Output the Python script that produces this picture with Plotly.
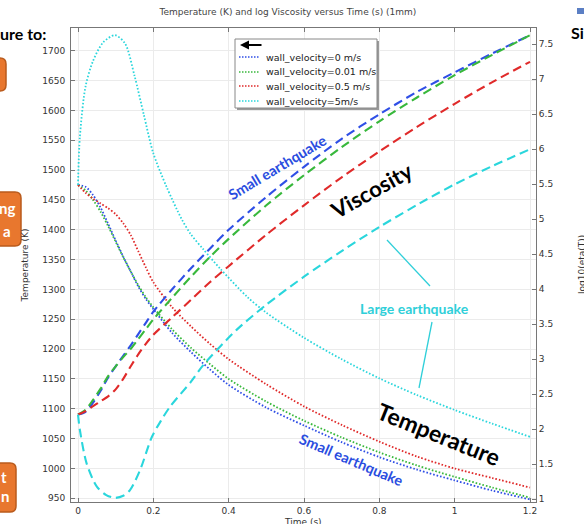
import plotly.graph_objects as go

# ---------------- data ----------------
t_T = [0, 0.02, 0.04, 0.06, 0.08, 0.1, 0.12, 0.14, 0.16, 0.18, 0.2, 0.25, 0.3,
       0.35, 0.4, 0.5, 0.6, 0.7, 0.8, 0.9, 1.0, 1.1, 1.2]
T_v0 = [1475, 1472, 1458, 1437, 1410, 1382, 1355, 1330, 1305, 1284, 1267, 1227, 1195,
        1166, 1140, 1102, 1072, 1044, 1019, 998, 980, 963, 948]
T_v001 = [1475, 1466, 1450, 1430, 1406, 1380, 1354, 1330, 1307, 1287, 1270, 1233, 1202,
          1175, 1150, 1112, 1080, 1052, 1027, 1005, 986, 968, 951]
T_v05 = [1475, 1462, 1452, 1444, 1436, 1426, 1411, 1391, 1364, 1337, 1312, 1270, 1238,
         1209, 1183, 1141, 1104, 1073, 1045, 1020, 1000, 984, 968]
t_T5 = [0, 0.005, 0.02, 0.04, 0.067, 0.098, 0.125, 0.15, 0.175, 0.2, 0.235, 0.275, 0.3,
        0.333, 0.377, 0.45, 0.5, 0.6, 0.7, 0.8, 0.9, 1.0, 1.1, 1.2]
T_v5 = [1475, 1556, 1640, 1683, 1714, 1726, 1712, 1658, 1592, 1528, 1472, 1418, 1392,
        1367, 1335, 1287, 1261, 1219, 1183, 1151, 1123, 1098, 1075, 1053]

t_V = [0, 0.02, 0.04, 0.06, 0.08, 0.1, 0.12, 0.14, 0.16, 0.18, 0.2, 0.25, 0.3,
       0.35, 0.4, 0.5, 0.6, 0.7, 0.8, 0.9, 1.0, 1.1, 1.2]
V_v0 = [2.21, 2.25, 2.38, 2.55, 2.74, 2.90, 3.05, 3.20, 3.36, 3.52, 3.68, 4.00, 4.30,
        4.58, 4.85, 5.32, 5.75, 6.15, 6.50, 6.82, 7.10, 7.37, 7.63]
V_v001 = [2.21, 2.28, 2.42, 2.58, 2.76, 2.90, 3.03, 3.15, 3.29, 3.43, 3.57, 3.88, 4.18,
          4.46, 4.72, 5.20, 5.63, 6.03, 6.40, 6.74, 7.06, 7.35, 7.63]
V_v05 = [2.21, 2.26, 2.33, 2.40, 2.47, 2.57, 2.72, 2.90, 3.07, 3.22, 3.35, 3.60, 3.85,
         4.10, 4.33, 4.78, 5.20, 5.60, 5.97, 6.32, 6.65, 6.96, 7.25]
t_V5 = [0, 0.005, 0.023, 0.05, 0.075, 0.098, 0.12, 0.138, 0.165, 0.196, 0.22, 0.244,
        0.3, 0.333, 0.421, 0.5, 0.6, 0.704, 0.8, 0.908, 1.0, 1.1, 1.2]
V_v5 = [2.21, 1.99, 1.51, 1.18, 1.06, 1.02, 1.05, 1.13, 1.42, 1.89, 2.12, 2.32,
        2.68, 2.92, 3.42, 3.78, 4.18, 4.56, 4.89, 5.23, 5.50, 5.76, 6.00]

series_names = ["wall_velocity=0 m/s", "wall_velocity=0.01 m/s",
                "wall_velocity=0.5 m/s", "wall_velocity=5m/s"]
colors = ["#2f4fe6", "#38b83c", "#e02a2a", "#2ad6dc"]

# ---------------- layout geometry ----------------
W, H = 584, 524
L, R, TOP, B = 71, 48, 28, 22
PW, PH = W - L - R, H - TOP - B


def px(x):
    return (x - L) / PW


def py(y):
    return 1 - (y - TOP) / PH


fig = go.Figure()

temps = [(t_T, T_v0), (t_T, T_v001), (t_T, T_v05), (t_T5, T_v5)]
viscs = [(t_V, V_v0), (t_V, V_v001), (t_V, V_v05), (t_V5, V_v5)]

for i, (tt, vv) in enumerate(viscs):
    fig.add_trace(go.Scatter(x=tt, y=vv, yaxis="y2", mode="lines",
                             line=dict(color=colors[i], width=2.1, dash="9px,5px",
                                       shape="spline", smoothing=0.8),
                             showlegend=False, name=series_names[i]))
for i, (tt, vv) in enumerate(temps):
    fig.add_trace(go.Scatter(x=tt, y=vv, mode="lines",
                             line=dict(color=colors[i], width=1.8, dash="1.6px,1.9px",
                                       shape="spline", smoothing=0.8),
                             showlegend=False, name=series_names[i]))

axis_col = "#777777"
tickfont = dict(family="DejaVu Sans", size=9, color="#333333")

fig.update_layout(
    width=W, height=H,
    margin=dict(l=L, r=R, t=TOP, b=B, autoexpand=False),
    paper_bgcolor="white", plot_bgcolor="white",
    showlegend=False,
    title=dict(text="Temperature (K) and log Viscosity versus Time (s) (1mm)",
               x=288 / W, xanchor="center", y=1 - 12 / H, yanchor="middle",
               font=dict(family="DejaVu Sans", size=9, color="#444444")),
    xaxis=dict(range=[-0.0186, 1.2159], tickvals=[0, 0.2, 0.4, 0.6, 0.8, 1, 1.2],
               ticktext=["0", "0.2", "0.4", "0.6", "0.8", "1", "1.2"],
               automargin=False,
               showgrid=True, gridcolor="#ebebeb", gridwidth=1, zeroline=False,
               showline=True, linecolor=axis_col, linewidth=1, mirror="ticks",
               ticks="inside", ticklen=4, tickcolor=axis_col, tickfont=tickfont),
    yaxis=dict(range=[943.8, 1738.0], dtick=50, tick0=950, automargin=False,
               showgrid=True, gridcolor="#ebebeb", gridwidth=1, zeroline=False,
               showline=True, linecolor=axis_col, linewidth=1,
               ticks="inside", ticklen=4, tickcolor=axis_col, tickfont=tickfont,
               ticklabelstandoff=3,
               title=dict(text="Temperature (K)", font=tickfont, standoff=12)),
    yaxis2=dict(range=[0.961, 7.733], dtick=0.5, tick0=1, overlaying="y", side="right",
                automargin=False,
                showgrid=False, zeroline=False,
                showline=True, linecolor=axis_col, linewidth=1,
                ticks="inside", ticklen=4, tickcolor=axis_col, tickfont=tickfont),
)

shapes = []
annots = []

# axis titles placed by position (bottom and right are partly cut in the reference)
annots.append(dict(text="Time (s)", xref="paper", yref="paper", x=px(303), y=py(522),
                   xanchor="center", yanchor="middle", showarrow=False, font=tickfont))
annots.append(dict(text="log10(eta(T))", xref="paper", yref="paper", x=px(582),
                   y=py(265), xanchor="center", yanchor="middle", textangle=-90,
                   showarrow=False, font=tickfont))

# ---------- legend box (drawn) ----------
shapes.append(dict(type="rect", xref="paper", yref="paper", x0=px(237), x1=px(379),
                   y0=py(110), y1=py(41), fillcolor="#9a9a9a", line=dict(width=0),
                   layer="above"))
shapes.append(dict(type="rect", xref="paper", yref="paper", x0=px(235), x1=px(377),
                   y0=py(108), y1=py(39), fillcolor="white",
                   line=dict(color="#888888", width=1), layer="above"))
leg_y = [57, 72, 86, 101]
for i, yy in enumerate(leg_y):
    shapes.append(dict(type="line", xref="paper", yref="paper", x0=px(239), x1=px(260),
                       y0=py(yy), y1=py(yy),
                       line=dict(color=colors[i], width=1.5, dash="1.5px,1.5px"),
                       layer="above"))
    annots.append(dict(text=series_names[i], xref="paper", yref="paper", x=px(264),
                       y=py(yy), xanchor="left", yanchor="middle", showarrow=False,
                       font=dict(family="DejaVu Sans", size=9.5, color="#222222")))
annots.append(dict(text="", xref="paper", yref="paper", x=px(240), y=py(45),
                   ax=23, ay=0, showarrow=True, arrowhead=2, arrowsize=0.9,
                   arrowwidth=2, arrowcolor="black"))

# ---------- chart annotations ----------
lab_font = "Lato"
annots += [
    dict(text="<b>Small earthquake</b>", x=px(277), y=py(168), textangle=-31,
         font=dict(family=lab_font, size=14.5, color="#2a4de0")),
    dict(text="<b>Viscosity</b>", x=px(371), y=py(190), textangle=-29,
         font=dict(family=lab_font, size=22, color="black")),
    dict(text="<b>Large earthquake</b>", x=px(414), y=py(308), textangle=0,
         font=dict(family=lab_font, size=14, color="#2fcfd9")),
    dict(text="<b>Temperature</b>", x=px(439), y=py(434), textangle=22,
         font=dict(family=lab_font, size=23, color="black")),
    dict(text="<b>Small earthquake</b>", x=px(351), y=py(459), textangle=23,
         font=dict(family=lab_font, size=14.5, color="#2a4de0")),
]
for a in annots[-5:]:
    a.update(xref="paper", yref="paper", xanchor="center", yanchor="middle",
             showarrow=False)

shapes.append(dict(type="line", xref="paper", yref="paper", x0=px(387), y0=py(240),
                   x1=px(430), y1=py(286), line=dict(color="#2fcfd9", width=1.3)))
shapes.append(dict(type="line", xref="paper", yref="paper", x0=px(432), y0=py(322),
                   x1=px(419), y1=py(388), line=dict(color="#2fcfd9", width=1.3)))


# ---------- surrounding slide pieces ----------
def rrect(x0, y0, x1, y1, r=6):
    X = lambda v: px(v)
    Y = lambda v: py(v)
    return (f"M {X(x0 + r)} {Y(y0)} L {X(x1 - r)} {Y(y0)} Q {X(x1)} {Y(y0)} {X(x1)} {Y(y0 + r)} "
            f"L {X(x1)} {Y(y1 - r)} Q {X(x1)} {Y(y1)} {X(x1 - r)} {Y(y1)} "
            f"L {X(x0 + r)} {Y(y1)} Q {X(x0)} {Y(y1)} {X(x0)} {Y(y1 - r)} "
            f"L {X(x0)} {Y(y0 + r)} Q {X(x0)} {Y(y0)} {X(x0 + r)} {Y(y0)} Z")


for (x0, y0, x1, y1) in [(-20, 58, 6, 91), (-20, 192, 21, 246), (-20, 463, 16, 512)]:
    shapes.append(dict(type="path", xref="paper", yref="paper", path=rrect(x0, y0, x1, y1),
                       fillcolor="#e8772e", line=dict(color="#b95b1d", width=1.5),
                       layer="above"))

slide_txt = [
    ("<b>ure to:</b>", 48, 34, "right", 16, "black"),
    ("<b>ng</b>", 17, 208, "right", 15, "white"),
    ("<b>a</b>", 13, 231, "right", 15, "white"),
    ("<b>t</b>", 9, 477, "right", 15, "white"),
    ("<b>n</b>", 11, 496, "right", 15, "white"),
    ("<b>Si</b>", 569, 33, "left", 16, "black"),
]
for txt, xx, yy, anc, fs, col in slide_txt:
    annots.append(dict(text=txt, xref="paper", yref="paper", x=px(xx), y=py(yy),
                       xanchor=anc, yanchor="middle", showarrow=False,
                       font=dict(family=lab_font, size=fs, color=col)))
shapes.append(dict(type="rect", xref="paper", yref="paper", x0=px(577), x1=px(588),
                   y0=py(14), y1=py(8), fillcolor="#5b7fc4", line=dict(width=0)))

fig.update_layout(shapes=shapes, annotations=annots)
fig.write_html("out.html", config={"displayModeBar": False},
               post_script="document.body.style.margin='0';"
                           "document.body.style.overflow='hidden';")
